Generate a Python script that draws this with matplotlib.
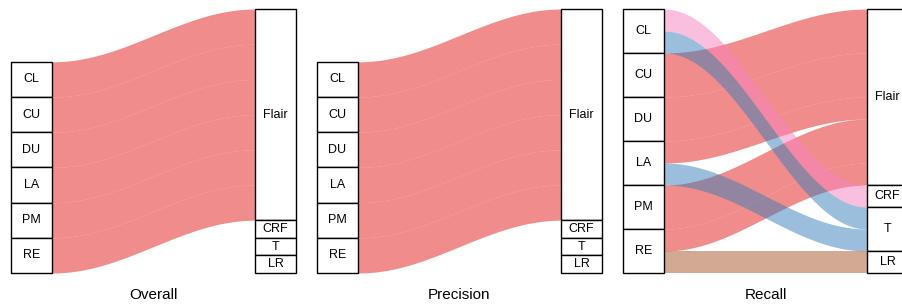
import matplotlib.pyplot as plt
import numpy as np
from matplotlib.patches import Rectangle

plt.rcParams['font.family'] = ['Liberation Sans', 'DejaVu Sans']

left_labels = ['CL', 'CU', 'DU', 'LA', 'PM', 'RE']
right_labels = ['Flair', 'CRF', 'T', 'LR']
right_colors = ['#e41a1c', '#f781bf', '#377eb8', '#a65628']
titles = ['Overall', 'Precision', 'Recall']

# rows = left labels, columns = right labels
overall_flows = [[1, 0, 0, 0],
                 [1, 0, 0, 0],
                 [1, 0, 0, 0],
                 [1, 0, 0, 0],
                 [1, 0, 0, 0],
                 [1, 0, 0, 0]]
precision_flows = [[1, 0, 0, 0],
                   [1, 0, 0, 0],
                   [1, 0, 0, 0],
                   [1, 0, 0, 0],
                   [1, 0, 0, 0],
                   [1, 0, 0, 0]]
recall_flows = [[0, 0.5, 0.5, 0],
                [1, 0, 0, 0],
                [1, 0, 0, 0],
                [0.5, 0, 0.5, 0],
                [1, 0, 0, 0],
                [0.5, 0, 0, 0.5]]
min_size = 0.5  # nodes without flows still get a small box

W, H = 903, 308
fig = plt.figure(figsize=(W / 100, H / 100), dpi=100)

box_w = 41
span = 285


def stack_tops(sizes):
    return sizes.sum() - np.concatenate([[0], np.cumsum(sizes)[:-1]])


for i, (title, data) in enumerate(zip(titles, [overall_flows, precision_flows, recall_flows])):
    x0 = 11 + 306 * i
    ax = fig.add_axes([x0 / W, (H - 273) / H, span / W, 264 / H])
    ax.axis('off')

    flows = np.array(data, dtype=float)
    lsz = np.maximum(flows.sum(axis=1), min_size)
    rsz = np.maximum(flows.sum(axis=0), min_size)
    total = max(lsz.sum(), rsz.sum())
    ax.set_xlim(0, span)
    ax.set_ylim(0, total)

    ltop = stack_tops(lsz)
    rtop = stack_tops(rsz)

    # where each flow starts (left) and ends (right), measured from the node top
    loff = np.zeros_like(flows)
    roff = np.zeros_like(flows)
    for a in range(len(left_labels)):
        loff[a] = np.concatenate([[0], np.cumsum(flows[a])[:-1]])
    for b in range(len(right_labels)):
        roff[:, b] = np.concatenate([[0], np.cumsum(flows[:, b])[:-1]])

    xs = np.linspace(box_w, span - box_w, 200)
    s = (1 - np.cos(np.pi * (xs - box_w) / (span - 2 * box_w))) / 2
    for b in range(len(right_labels)):
        for a in range(len(left_labels)):
            w = flows[a, b]
            if w <= 0:
                continue
            yl = ltop[a] - loff[a, b]
            yr = rtop[b] - roff[a, b]
            top = yl + (yr - yl) * s
            ax.fill_between(xs, top - w, top, color=right_colors[b], alpha=0.5, lw=0)

    for a, lab in enumerate(left_labels):
        ax.add_patch(Rectangle((0, ltop[a] - lsz[a]), box_w, lsz[a], facecolor='white',
                               edgecolor='black', lw=1, clip_on=False, zorder=3))
        ax.text(box_w / 2, ltop[a] - lsz[a] / 2, lab, ha='center', va='center', fontsize=9, zorder=4)
    for b, lab in enumerate(right_labels):
        ax.add_patch(Rectangle((span - box_w, rtop[b] - rsz[b]), box_w, rsz[b], facecolor='white',
                               edgecolor='black', lw=1, clip_on=False, zorder=3))
        ax.text(span - box_w / 2, rtop[b] - rsz[b] / 2, lab, ha='center', va='center', fontsize=9, zorder=4)

    fig.text((x0 + span / 2) / W, 1 - 295 / H, title, ha='center', va='center', fontsize=11)

fig.savefig('out.png', dpi=100)
